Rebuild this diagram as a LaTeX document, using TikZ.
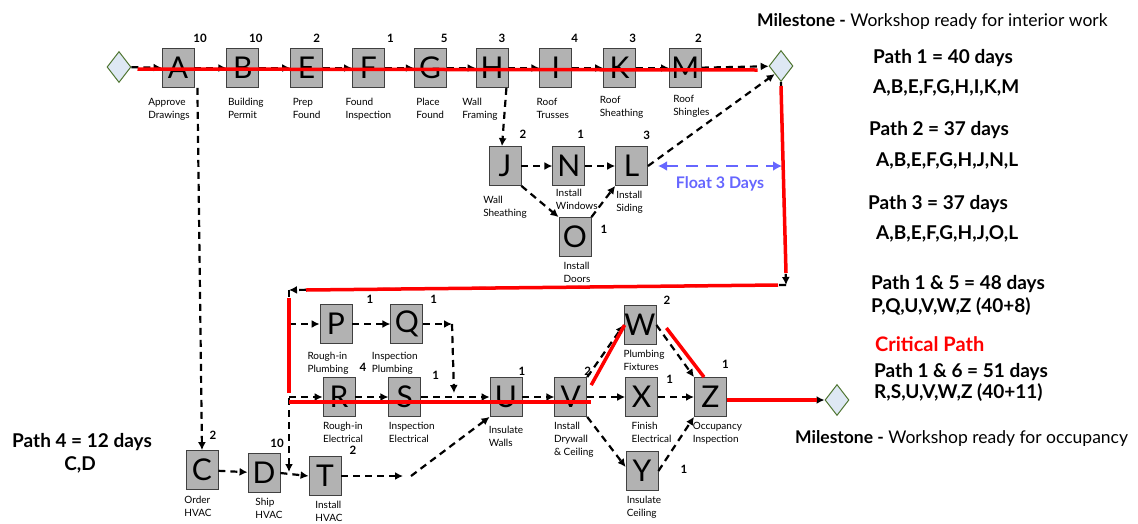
\documentclass[tikz,border=0pt]{standalone}
\usepackage{fontspec}
\setmainfont{Lato}
\usetikzlibrary{positioning,shapes.geometric,arrows.meta}
\definecolor{msfill}{RGB}{222,232,244}
\definecolor{msline}{RGB}{80,118,50}
\definecolor{floatblue}{RGB}{102,102,255}

\begin{document}
\begin{tikzpicture}[x=1pt, y=-1pt,
        task/.style = {draw=black!75, fill=black!30, line width=0.8pt, minimum width=32pt, minimum height=39pt, inner sep=0pt, font=\fontsize{30}{30}\selectfont},
        milestone/.style = {diamond, draw=msline, fill=msfill, line width=1pt, minimum width=24pt, minimum height=31pt, inner sep=0pt},
        dur/.style = {font=\bfseries\fontsize{11.5}{11.5}\selectfont, inner sep=1pt, yshift=4pt},
        desc/.style = {font=\fontsize{10}{13}\selectfont, align=left, inner sep=1pt, yshift=-4pt},
        dep/.style = {line width=2.2pt, dash pattern=on 7pt off 5pt, -{Latex[length=8pt,width=8pt]}},
        crit/.style = {red, line width=3.5pt},
        note/.style = {font=\bfseries\fontsize{19}{19}\selectfont, anchor=base west, inner sep=0pt},
        mstext/.style = {font=\fontsize{17.5}{17.5}\selectfont, anchor=base west, inner sep=0pt}
    ]
    \useasboundingbox (0,0) rectangle (1138,523);

    % top row
    \node[milestone] (st) at (119,67) {};
    \node[task, label={[dur,xshift=22pt]north:10}, label={[desc,xshift=-9pt,yshift=-5pt]below:Approve\\Drawings}] (A) at (178,68) {A};
    \node[task, right=32pt of A, label={[dur,xshift=13pt]north:10}, label={[desc,xshift=3pt,yshift=-5pt]below:Building\\Permit}] (B) {B};
    \node[task, right=31pt of B, label={[dur,xshift=10pt]north:2}, label={[desc,yshift=-5pt]below:Prep\\Found}] (E) {E};
    \node[task, right=29pt of E, label={[dur,xshift=22pt]north:1}, label={[desc,yshift=-5pt]below:Found\\Inspection}] (F) {F};
    \node[task, right=29pt of F, label={[dur,xshift=14pt]north:5}, label={[desc,yshift=-5pt]below:Place\\Found}] (G) {G};
    \node[task, right=29pt of G, label={[dur,xshift=10pt]north:3}, label={[desc,xshift=-12pt,yshift=-5pt]below:Wall\\Framing}] (H) {H};
    \node[task, right=31pt of H, label={[dur,xshift=19pt]north:4}, label={[desc,xshift=-3pt,yshift=-5pt]below:Roof\\Trusses}] (I) {I};
    \node[task, right=31pt of I, label={[dur,xshift=13pt]north:3}, label={[desc,xshift=2pt,yshift=-3pt]below:Roof\\Sheathing}] (K) {K};
    \node[task, right=33pt of K, label={[dur,xshift=13pt]north:2}, label={[desc,xshift=6pt,yshift=-2pt]below:Roof\\Shingles}] (M) {M};
    \node[milestone] (ms1) at (781,66) {};

    % wall sheathing branch
    \node[task, label={[dur,xshift=18pt,yshift=2pt]north:2}, label={[desc,yshift=-5pt]below:Wall\\Sheathing}] (J) at (505,166) {J};
    \node[task, right=31pt of J, label={[dur,xshift=12pt,yshift=2pt]north:1}, label={[desc,xshift=8pt,yshift=2pt]below:Install\\Windows}] (N) {N};
    \node[task, right=30pt of N, label={[dur,xshift=15pt,yshift=1pt]north:3}, label={[desc,xshift=-2pt]below:Install\\Siding}] (L) {L};
    \node[task, label={[dur,xshift=8pt,yshift=4pt]east:1}, label={[desc,xshift=2pt]below:Install\\Doors}] (O) at (575,237) {O};

    % interior work
    \node[task, label={[dur,xshift=34pt,yshift=-5pt]north:1}, label={[desc,xshift=-8pt,yshift=-3pt]below:Rough-in\\Plumbing}] (P) at (336,324) {P};
    \node[task, right=38pt of P, label={[dur,xshift=27pt,yshift=-5pt]north:1}, label={[desc,xshift=-12pt,yshift=-3pt]below:Inspection\\Plumbing}] (Q) {Q};
    \node[task, label={[dur,xshift=24pt]north:4}, label={[desc,xshift=4pt]below:Rough-in\\Electrical}] (R) at (339,397) {R};
    \node[task, right=33pt of R, label={[dur,xshift=31pt,yshift=-8pt]north:1}, label={[desc,xshift=7pt]below:Inspection\\Electrical}] (S) {S};
    \node[task, label={[dur,xshift=16pt,yshift=-4pt]north:1}, label={[desc,yshift=-4pt]below:Insulate\\Walls}] (U) at (506,397) {U};
    \node[task, right=32pt of U, label={[dur,xshift=17pt,yshift=-4pt]north:2}, label={[desc,xshift=3pt]below:Install\\Drywall\\\& Ceiling}] (V) {V};
    \node[task, right=38pt of V, label={[dur,xshift=28pt,yshift=-12pt]north:1}, label={[desc,xshift=10pt]below:Finish\\Electrical}] (X) {X};
    \node[task, right=36pt of X, label={[dur,xshift=15pt,yshift=3pt]north:1}, label={[desc,xshift=7pt]below:Occupancy\\Inspection}] (Z) {Z};
    \node[task, label={[dur,xshift=27pt,yshift=-5pt]north:2}, label={[desc,xshift=4pt]below:Plumbing\\Fixtures}] (W) at (640,325) {W};
    \node[task, label={[dur,xshift=21pt,yshift=-2pt]east:1}, label={[desc,xshift=2pt]below:Insulate\\Ceiling}] (Y) at (642,471) {Y};
    \node[milestone] (ms2) at (837,400) {};

    % hvac
    \node[task, label={[dur,xshift=11pt,yshift=5pt]north:2}, label={[desc,xshift=-4pt,yshift=-1pt]below:Order\\HVAC}] (C) at (202,470) {C};
    \node[task, label={[dur,xshift=13pt]north:10}, label={[desc,xshift=5pt]below:Ship\\HVAC}] (D) at (264,473) {D};
    \node[task, label={[dur,xshift=28pt,yshift=-4pt]north:2}, label={[desc,xshift=4pt]below:Install\\HVAC}] (T) at (325,476) {T};

    \coordinate (j1) at (786,285);
    \coordinate (j2) at (289,290);
    \coordinate (j3) at (289,472);
    \coordinate (j4) at (403,476);
    \coordinate (j5) at (452,324);
    \coordinate (j6) at (454,393);
    \coordinate (j7) at (j2 |- R);
    \coordinate (fl) at (L.east -| j1);

    % dependencies
    \draw[dep] (st) -- (A);
    \draw[dep] (A) -- (B);
    \draw[dep] (B) -- (E);
    \draw[dep] (E) -- (F);
    \draw[dep] (F) -- (G);
    \draw[dep] (G) -- (H);
    \draw[dep] (H) -- (I);
    \draw[dep] (I) -- (K);
    \draw[dep] (K) -- (M);
    \draw[dep] (M) -- (ms1);
    \draw[dep] ([xshift=3pt]A.south east) -- (C.north);
    \draw[dep] ([xshift=-2pt]H.south east) -- ([xshift=-3pt]J.north);
    \draw[dep] (J) -- (N);
    \draw[dep] (N) -- (L);
    \draw[dep] (J.south east) -- (O.north west);
    \draw[dep] (O.north east) -- (L.south west);
    \draw[dep] (L.east) -- (ms1.south west);
    \draw[dep] (ms1.south) -- (j1);
    \draw[dep] (j1) -- (j2);
    \draw[dep] (j2) -- (j3);
    \draw[dep] (j2 |- P) -- (P);
    \draw[dep] (j7) -- (R);
    \draw[dep] (C) -- (D);
    \draw[dep] (D.east) -- (T.west);
    \draw[dep] (T) -- (j4);
    \draw[dep] ([xshift=8pt]j4) -- (U.south west);
    \draw[dep] (P) -- (Q);
    \draw[dep] (Q) -- (j5);
    \draw[dep] (j5) -- (j6);
    \draw[dep] (R) -- (S);
    \draw[dep] (S) -- (U);
    \draw[dep] (U) -- (V);
    \draw[dep] (V.north east) -- (W.west);
    \draw[dep] (V) -- (X);
    \draw[dep] (V.south east) -- ([yshift=4pt]Y.west);
    \draw[dep] (W.east) -- (Z.north west);
    \draw[dep] (X) -- (Z);
    \draw[dep] (Y.east) -- (Z.south west);
    \draw[dep] ([yshift=-3pt]Z.east) -- (ms2.west);

    % float
    \draw[floatblue, line width=2.5pt, dash pattern=on 12pt off 8pt, {Latex[length=9pt,width=10pt]}-{Latex[length=9pt,width=10pt]}]
        ([xshift=10pt]L.east) -- ([xshift=-4pt]fl)
        node[midway, anchor=base, yshift=-22pt, font=\bfseries\fontsize{16}{16}\selectfont, text=floatblue] (float) {Float 3 Days};

    % critical path
    \draw[crit] ([xshift=6pt,yshift=-2pt]st.east) -- ([xshift=-11pt,yshift=-4pt]ms1.west);
    \draw[crit] ([yshift=-4pt]ms1.south) -- ([yshift=12pt]j1);
    \draw[crit] ([xshift=-8pt]j1) -- ([xshift=17pt]j2);
    \draw[crit] ([yshift=-8pt]j2) -- ([yshift=4pt]j7);
    \draw[crit] ([yshift=-5pt]j7) -- ([xshift=4pt,yshift=-5pt]V.east);
    \draw[crit] ([xshift=4pt,yshift=-8pt]V.north east) -- ([xshift=1pt]W.west);
    \draw[crit] ([xshift=10pt,yshift=-3pt]W.east) -- ([xshift=10pt]Z.north west);
    \draw[crit] ([yshift=-3pt]Z.east) -- ([xshift=-8pt]ms2.west);

    % notes
    \node[mstext] (mstop) at (757,26) {\textbf{Milestone -} Workshop ready for interior work};
    \node[note] (path1) at (873,63) {Path 1 = 40 days};
    \node[note] (seq1) at (873,93) {A,B,E,F,G,H,I,K,M};
    \node[note] (path2) at (869,135) {Path 2 = 37 days};
    \node[note] (seq2) at (876,166) {A,B,E,F,G,H,J,N,L};
    \node[note] (path3) at (868,209) {Path 3 = 37 days};
    \node[note] (seq3) at (876,239) {A,B,E,F,G,H,J,O,L};
    \node[note] (path15) at (871,289) {Path 1 \& 5 = 48 days};
    \node[note] (seq15) at (871,312) {P,Q,U,V,W,Z (40+8)};
    \node[note, text=red, font=\bfseries\fontsize{20}{20}\selectfont] (critpath) at (875,351) {Critical Path};
    \node[note] (path16) at (874,377) {Path 1 \& 6 = 51 days};
    \node[note] (seq16) at (874,398) {R,S,U,V,W,Z (40+11)};
    \node[mstext] (msbot) at (795,443) {\textbf{Milestone -} Workshop ready for occupancy};
    \node[note] (path4) at (12,447) {Path 4 = 12 days};
    \node[note, anchor=base] (seq4) at (80,470) {C,D};
\end{tikzpicture}
\end{document}
